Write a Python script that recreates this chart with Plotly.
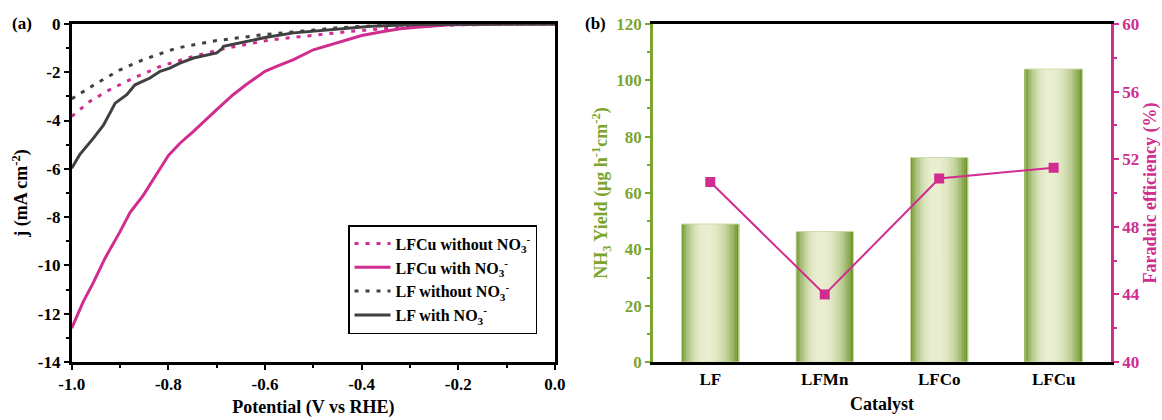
import plotly.graph_objects as go

# ---------------- data: panel (a) LSV curves ----------------
x_lfcu_wo = [-1.0, -0.962, -0.921, -0.872, -0.817, -0.748, -0.679, -0.597, -0.562, -0.493,
             -0.424, -0.35, -0.286, -0.2, -0.15, -0.1, 0.0]
y_lfcu_wo = [-3.83, -3.2, -2.72, -2.24, -1.76, -1.34, -1.0, -0.69, -0.6, -0.44,
             -0.31, -0.19, -0.1, -0.04, -0.02, -0.01, 0.0]

x_lfcu_w = [-1.0, -0.976, -0.955, -0.931, -0.90, -0.879, -0.852, -0.817, -0.80, -0.776,
            -0.748, -0.70, -0.666, -0.638, -0.60, -0.576, -0.541, -0.50, -0.45, -0.424,
            -0.40, -0.355, -0.32, -0.286, -0.25, -0.217, -0.18, -0.15, -0.10, -0.05, 0.0]
y_lfcu_w = [-12.6, -11.5, -10.7, -9.7, -8.6, -7.8, -7.1, -5.95, -5.45, -4.94,
            -4.45, -3.55, -2.93, -2.5, -1.96, -1.76, -1.48, -1.07, -0.78, -0.61,
            -0.48, -0.31, -0.2, -0.14, -0.07, -0.03, -0.02, -0.01, 0.0, 0.0, 0.0]

x_lf_wo = [-1.0, -0.948, -0.9, -0.852, -0.783, -0.7, -0.61, -0.493, -0.45, -0.4,
           -0.35, -0.3, -0.2, -0.1, 0.0]
y_lf_wo = [-3.1, -2.45, -1.9, -1.48, -1.0, -0.69, -0.46, -0.22, -0.16, -0.1,
           -0.06, -0.03, -0.01, 0.0, 0.0]

x_lf_w = [-1.0, -0.983, -0.955, -0.934, -0.91, -0.886, -0.869, -0.838, -0.817, -0.797,
          -0.776, -0.748, -0.70, -0.69, -0.686, -0.638, -0.597, -0.541, -0.486, -0.424,
          -0.38, -0.33, -0.28, -0.2, -0.1, 0.0]
y_lf_w = [-5.98, -5.4, -4.73, -4.18, -3.28, -2.93, -2.52, -2.24, -1.96, -1.83,
          -1.62, -1.41, -1.2, -1.05, -0.93, -0.72, -0.55, -0.37, -0.28, -0.17,
          -0.1, -0.05, -0.02, -0.01, 0.0, 0.0]

# ---------------- data: panel (b) ----------------
catalysts = ["LF", "LFMn", "LFCo", "LFCu"]
nh3_yield = [49.0, 46.3, 72.6, 104.0]
faradaic_eff = [50.65, 44.0, 50.86, 51.5]

# tick labels
xa_vals = [-1.0, -0.8, -0.6, -0.4, -0.2, 0.0]
xa_text = ["-1.0", "-0.8", "-0.6", "-0.4", "-0.2", "0.0"]
ya_vals = [0, -2, -4, -6, -8, -10, -12, -14]
ya_text = ["0", "-2", "-4", "-6", "-8", "-10", "-12", "-14"]

# ---------------- styles ----------------
MAG = "#D12C8F"
DARK = "#404040"
GREEN = "#7BA52E"
FONT = "Liberation Serif"
TS = 17
tickfont = dict(family=FONT, size=TS, color="black", weight="bold")
titlefont = dict(family=FONT, size=18, color="black", weight="bold")

fig = go.Figure()

dotdash = "4px,7px"
series = [
    (x_lfcu_wo, y_lfcu_wo, MAG, dotdash, "LFCu without NO<sub>3</sub><sup>-</sup>"),
    (x_lfcu_w, y_lfcu_w, MAG, "solid", "LFCu with NO<sub>3</sub><sup>-</sup>"),
    (x_lf_wo, y_lf_wo, DARK, dotdash, "LF without NO<sub>3</sub><sup>-</sup>"),
    (x_lf_w, y_lf_w, DARK, "solid", "LF with NO<sub>3</sub><sup>-</sup>"),
]
for k, (xs, ys, col, dash, nm) in enumerate(series):
    fig.add_trace(go.Scatter(x=xs, y=ys, mode="lines",
                             line=dict(color=col, width=3, dash=dash),
                             name=nm, xaxis="x", yaxis="y"))

# gradient (cylinder-like) bars built from overlaid strips
BW = 0.5
NS = 36
dark = (96, 140, 24)
light = (235, 239, 210)
peak = 0.42
for i in range(NS):
    t = (i + 0.5) / NS
    if t < peak:
        f = 1 - ((peak - t) / peak) ** 2
    else:
        f = 1 - ((t - peak) / (1 - peak)) ** 2.2
    f = max(0.0, min(1.0, f)) ** 0.8
    c = tuple(int(dark[k] + (light[k] - dark[k]) * f) for k in range(3))
    step = BW / NS
    fig.add_trace(go.Bar(x=catalysts, y=nh3_yield, width=step * 1.25,
                         offset=-BW / 2 + i * step,
                         marker=dict(color="rgb(%d,%d,%d)" % c, line=dict(width=0)),
                         showlegend=False, hoverinfo="skip", xaxis="x2", yaxis="y2"))
fig.add_trace(go.Bar(x=catalysts, y=nh3_yield, width=BW, offset=-BW / 2,
                     marker=dict(color="rgba(0,0,0,0)", line=dict(color="#cfdcaa", width=1)),
                     showlegend=False, xaxis="x2", yaxis="y2"))

fig.add_trace(go.Scatter(x=catalysts, y=faradaic_eff, mode="lines+markers",
                         line=dict(color=MAG, width=2),
                         marker=dict(symbol="square", size=10, color=MAG),
                         showlegend=False, xaxis="x2", yaxis="y3"))

y_dom = [0.138, 0.943]
fig.update_layout(
    width=1162, height=420,
    margin=dict(l=0, r=0, t=0, b=0, autoexpand=False),
    paper_bgcolor="white", plot_bgcolor="white",
    barmode="overlay",
    font=dict(family=FONT),
    showlegend=True,
    legend=dict(x=0.2995, y=0.464, xanchor="left", yanchor="top",
                bordercolor="black", borderwidth=1.5, bgcolor="white",
                font=dict(family=FONT, size=16, color="black", weight="bold"),
                itemwidth=36),
    xaxis=dict(domain=[0.0617, 0.4776], range=[-1.0, 0.0], anchor="y", automargin=False,
               tickvals=xa_vals, ticktext=xa_text, tickfont=tickfont,
               showline=True, linecolor="black", linewidth=2.5, mirror=True,
               ticks="outside", ticklen=5, tickwidth=2, tickcolor="black",
               minor=dict(tickmode="linear", tick0=0, dtick=0.1, ticks="outside",
                          ticklen=3, tickwidth=2, tickcolor="black"),
               showgrid=False, zeroline=False,
               title=dict(text="Potential (V vs RHE)", font=titlefont, standoff=8)),
    yaxis=dict(domain=y_dom, range=[-14, 0], anchor="x", automargin=False,
               tickvals=ya_vals, ticktext=ya_text, tickfont=tickfont,
               showline=True, linecolor="black", linewidth=2.5, mirror=True,
               ticks="outside", ticklen=5, tickwidth=2, tickcolor="black",
               minor=dict(tickmode="linear", tick0=0, dtick=1, ticks="outside",
                          ticklen=3, tickwidth=2, tickcolor="black"),
               showgrid=False, zeroline=False,
               title=dict(text="j (mA cm<sup>-2</sup>)", font=titlefont, standoff=6)),
    xaxis2=dict(domain=[0.562, 0.956], range=[-0.5, 3.5], anchor="y2", type="category",
                automargin=False,
                tickfont=tickfont, showline=True, linecolor="black", linewidth=2.5,
                mirror=True, ticks="", showgrid=False, zeroline=False,
                title=dict(text="Catalyst", font=titlefont, standoff=10)),
    yaxis2=dict(domain=y_dom, range=[0, 120], anchor="x2", automargin=False,
                tickvals=[0, 20, 40, 60, 80, 100, 120],
                tickfont=dict(family=FONT, size=TS, color=GREEN, weight="bold"),
                showline=True, linecolor=GREEN, linewidth=3,
                ticks="outside", ticklen=5, tickwidth=2, tickcolor=GREEN,
                minor=dict(tickmode="linear", tick0=0, dtick=10, ticks="outside",
                           ticklen=3, tickwidth=2, tickcolor=GREEN),
                showgrid=False, zeroline=False,
                title=dict(text="NH<sub>3</sub> Yield (μg h<sup>-1</sup>cm<sup>-2</sup>)",
                           font=dict(family=FONT, size=18, color=GREEN, weight="bold"),
                           standoff=4)),
    yaxis3=dict(domain=y_dom, range=[40, 60], anchor="x2", overlaying="y2", side="right",
                automargin=False,
                tickvals=[40, 44, 48, 52, 56, 60],
                tickfont=dict(family=FONT, size=TS, color=MAG, weight="bold"),
                showline=True, linecolor=MAG, linewidth=3,
                ticks="outside", ticklen=5, tickwidth=2, tickcolor=MAG,
                minor=dict(tickmode="linear", tick0=40, dtick=2, ticks="outside",
                           ticklen=3, tickwidth=2, tickcolor=MAG),
                showgrid=False, zeroline=False,
                title=dict(text="Faradaic efficiency (%)",
                           font=dict(family=FONT, size=18, color=MAG, weight="bold"),
                           standoff=5)),
    annotations=[
        dict(text="(a)", x=0.0085, y=0.943, xref="paper", yref="paper", xanchor="left",
             yanchor="middle", showarrow=False,
             font=dict(family=FONT, size=17, color="black", weight="bold")),
        dict(text="(b)", x=0.5015, y=0.943, xref="paper", yref="paper", xanchor="left",
             yanchor="middle", showarrow=False,
             font=dict(family=FONT, size=17, color="black", weight="bold")),
    ],
)

fig.write_html("out.html")
